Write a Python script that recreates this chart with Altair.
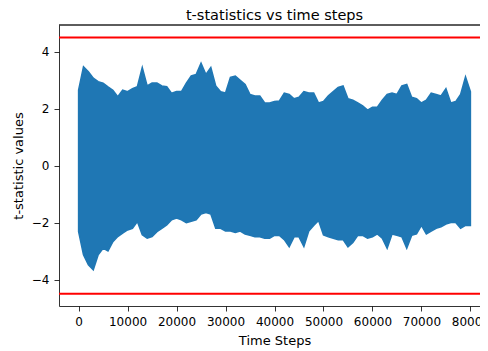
import altair as alt
import pandas as pd

# time steps (every 1000) at which the envelope of the t-statistic trace was read
steps = list(range(0, 81000, 1000))

# upper envelope of the t-statistic trace
upper = [2.65, 3.47, 3.3, 3.07, 2.95, 2.9, 2.77, 2.65, 2.42, 2.65,
         2.6, 2.7, 2.77, 3.45, 2.8, 2.9, 2.9, 2.8, 2.77, 2.54,
         2.6, 2.6, 2.9, 3.15, 3.2, 3.6, 3.2, 3.45, 2.8, 2.6,
         2.55, 3.1, 3.15, 3.0, 2.85, 2.5, 2.45, 2.45, 2.2, 2.2,
         2.25, 2.27, 2.55, 2.5, 2.35, 2.4, 2.6, 2.55, 2.55, 2.2,
         2.25, 2.45, 2.6, 2.75, 2.8, 2.35, 2.3, 2.2, 2.1, 1.95,
         2.05, 2.05, 2.3, 2.5, 2.55, 2.5, 2.8, 2.85, 2.4, 2.35,
         2.2, 2.3, 2.55, 2.5, 2.45, 2.7, 2.2, 2.25, 2.5, 3.12,
         2.6]

# lower envelope of the t-statistic trace
lower = [-2.32, -3.13, -3.48, -3.66, -3.13, -2.9, -3.0, -2.67, -2.49, -2.37,
         -2.26, -2.2, -1.96, -2.43, -2.55, -2.49, -2.32, -2.2, -2.08, -1.9,
         -1.84, -1.9, -2.0, -1.95, -1.9, -1.7, -1.65, -1.7, -2.2, -2.2,
         -2.3, -2.3, -2.35, -2.3, -2.4, -2.45, -2.5, -2.5, -2.55, -2.55,
         -2.45, -2.45, -2.6, -2.85, -2.5, -2.5, -2.84, -2.3, -2.1, -1.93,
         -2.43, -2.5, -2.55, -2.6, -2.6, -2.85, -2.7, -2.45, -2.45, -2.55,
         -2.5, -2.4, -2.55, -2.9, -2.4, -2.45, -2.5, -2.9, -2.45, -2.4,
         -2.1, -2.4, -2.3, -2.2, -2.15, -2.05, -2.0, -2.0, -2.2, -2.1,
         -2.1]

thresholds = [4.5, -4.5]
x_ticks = [0, 10000, 20000, 30000, 40000, 50000, 60000, 70000, 80000]
y_ticks = [-4, -2, 0, 2, 4]
y_domain = [-4.93, 4.94]

df = pd.DataFrame({"step": steps, "upper": upper, "lower": lower})
thr = pd.DataFrame({"thr": thresholds})

FONT = "DejaVu Sans"
W = 421  # plot area runs to the window's right edge, as in the reference
xscale = alt.Scale(domain=[-4000, -4000 + W / 431 * 88000], nice=False, zero=False)
yscale = alt.Scale(domain=y_domain, nice=False, zero=False)

band = alt.Chart(df).mark_area(
    interpolate="linear", color="#1f77b4", stroke="#1f77b4", strokeWidth=1.5, opacity=1
).encode(
    x=alt.X("step:Q", scale=xscale,
            axis=alt.Axis(orient="bottom", values=x_ticks, format="d",
                          title="Time Steps", titleX=215.5, titlePadding=7)),
    y=alt.Y("lower:Q", scale=yscale,
            axis=alt.Axis(values=y_ticks, title="t-statistic values", titlePadding=6,
                          labelExpr="replace(datum.label, '-', '\u2212')")),
    y2="upper:Q",
)

rules = alt.Chart(thr).mark_rule(color="#ff0000", strokeWidth=2).encode(
    y=alt.Y("thr:Q", scale=yscale)
)

# top spine of the axes frame
top_spine = alt.Chart(thr).mark_rule(color="black", strokeWidth=0.8).encode(
    y=alt.datum(y_domain[1])
)

chart = alt.layer(band, rules, top_spine).properties(
    width=W,
    height=281,
    autosize=alt.AutoSizeParams(type="none"),
    padding={"left": 51, "top": 17, "right": 0, "bottom": 43},
    title=alt.Title("t-statistics vs time steps", fontSize=14.5, font=FONT,
                    fontWeight="normal", color="black", offset=1, dx=5),
).configure_view(stroke=None).configure_axis(
    grid=False, domainColor="black", tickColor="black", labelColor="black",
    titleColor="black", labelFont=FONT, titleFont=FONT, labelFontSize=12,
    titleFontSize=13, titleFontWeight="normal", domainWidth=0.8, tickWidth=0.8,
    tickSize=5, labelPadding=5,
)

chart.save("out.html", embed_options={"renderer": "svg", "actions": False})
